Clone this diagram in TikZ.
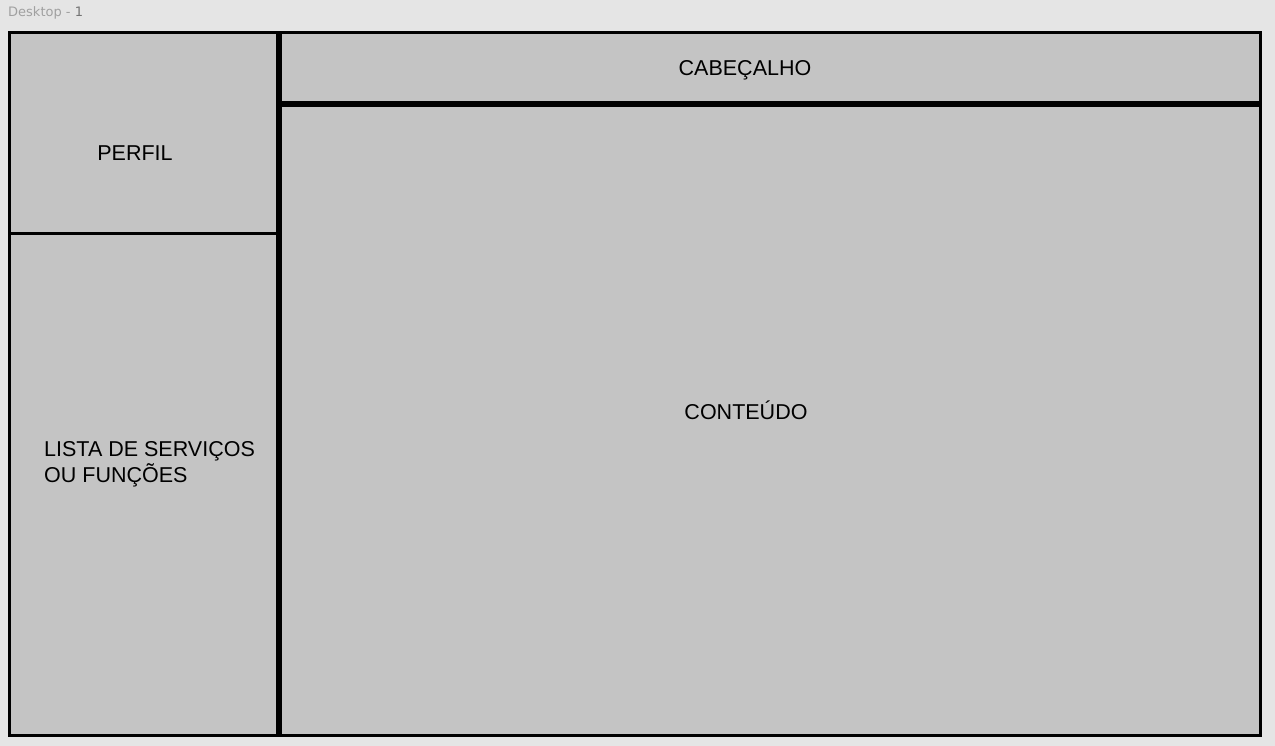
\documentclass[tikz,border=0pt]{standalone}
\usepackage{fontspec}
\setmainfont{Liberation Sans}
\newfontfamily\uifont{DejaVu Sans}
\definecolor{fundo}{HTML}{E5E5E5}
\definecolor{caixa}{HTML}{C4C4C4}
\definecolor{rotulo}{HTML}{A0A0A0}
\tikzset{
	bloco/.style={fill=caixa, draw=black, line width=3pt},
	texto/.style={inner sep=0pt, font=\fontsize{21.5}{26}\selectfont}
}
\begin{document}
\begin{tikzpicture}[x=1pt,y=-1pt]
				\fill[fundo] (0,0) rectangle (1275,746);
				\useasboundingbox (0,0) rectangle (1275,746);

				\node[inner sep=0pt, anchor=base west, text=rotulo, font=\uifont\fontsize{13}{15}\selectfont] (frame) at (8,17) {Desktop - \textcolor{black!55}{1}};

				\draw[bloco] (9.5,32.5) rectangle (277.5,233.5);
				\draw[bloco] (9.5,233.5) rectangle (277.5,735.5);
				\draw[bloco] (280.5,32.5) rectangle (1260.5,102.5);
				\draw[bloco] (280.5,105.5) rectangle (1260.5,735.5);

				\node[texto, anchor=base] (perfil) at (135,161) {PERFIL};
				\node[texto, anchor=base west, align=left] (lista) at (44,482) {LISTA DE SERVIÇOS\\OU FUNÇÕES};
				\node[texto, anchor=base] (cabecalho) at (745,76) {CABEÇALHO};
				\node[texto, anchor=base] (conteudo) at (746,419) {CONTEÚDO};
			\end{tikzpicture}
\end{document}
